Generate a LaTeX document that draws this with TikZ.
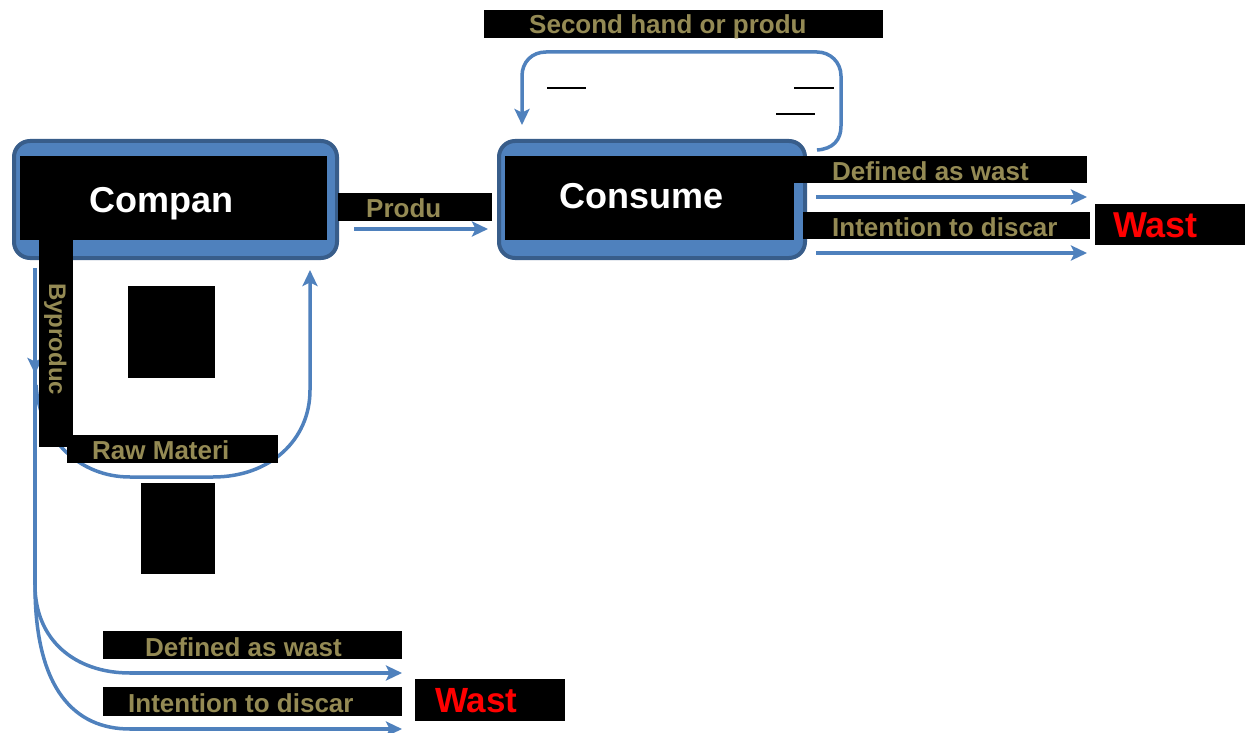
\documentclass[tikz,border=0pt]{standalone}
\usepackage{fontspec}
\setmainfont{Liberation Sans}
\usetikzlibrary{arrows.meta}
\definecolor{obl}{HTML}{4F81BD}
\definecolor{obd}{HTML}{385D8A}
\definecolor{olv}{HTML}{948A54}
\begin{document}
\begin{tikzpicture}[x=1pt,y=-1pt,
  outer/.style={draw=obd, line width=4pt, fill=obl, rounded corners=16pt, inner sep=0pt, anchor=north west},
  blk/.style={fill=black, inner sep=0pt, anchor=north west},
  arr/.style={draw=obl, line width=3.5pt, -{Stealth[length=16pt,width=15pt,inset=3.5pt]}},
  ln/.style={draw=obl, line width=3.5pt},
  dsh/.style={draw=black, line width=2.5pt},
  txt/.style={inner sep=0pt, anchor=base west, font=\bfseries\fontsize{26}{26}\selectfont, text=olv},
  big/.style={inner sep=0pt, anchor=base west, font=\bfseries\fontsize{36}{36}\selectfont}]
\useasboundingbox (0,0) rectangle (1248,733);
\fill[white] (0,0) rectangle (1248,733);

% blue boxes
\node[outer, minimum width=323pt, minimum height=117pt] (company) at (12,139) {};
\node[outer, minimum width=306pt, minimum height=117pt] (consumer) at (497,139) {};

% connector end points
\coordinate (prodS) at (354,229);
\coordinate (prodE) at (488,229);
\coordinate (dR1S) at (816,197);
\coordinate (dR1E) at (1087,197);
\coordinate (dR2S) at (816,253);
\coordinate (dR2E) at (1087,253);
\coordinate (loopS) at (817,150);
\coordinate (loopE) at (522,125);
\coordinate (byS) at (35,268);
\coordinate (byM) at (35,374);
\coordinate (bsplit) at (35,585);
\coordinate (rawE) at (310,270);

% connectors
\draw[arr] (prodS) -- (prodE);
\draw[arr] (dR1S) -- (dR1E);
\draw[arr] (dR2S) -- (dR2E);
\draw[arr] (loopS) .. controls (833,149) and (841,140) .. (841,126) -- (841,76)
   .. controls (841,62) and (830,52) .. (817,52) -- (546,52)
   .. controls (532,52) and (522,62) .. (522,76) -- (loopE);
% byproducts
\draw[arr] (byS) -- (byM);
\draw[ln] (35,368) -- (bsplit);
\draw[ln] (bsplit) .. controls (35,640) and (75,673) .. (130,673);
\draw[arr] (130,673) -- (402,673);
\draw[ln] (bsplit) .. controls (35,690) and (75,729) .. (130,729);
\draw[arr] (130,729) -- (402,729);
% raw materials loop
\draw[arr] (36,385) .. controls (40,440) and (80,477) .. (130,477) -- (213,477)
   .. controls (270,477) and (310,440) .. (310,390) -- (rawE);

% black masks
\node[blk, minimum width=307pt, minimum height=84pt] (companyblk) at (20,156) {};
\node[blk, minimum width=289pt, minimum height=84pt] (consumerblk) at (505,156) {};
\node[blk, minimum width=297pt, minimum height=27pt] (defR) at (790,156) {};
\node[blk, minimum width=287pt, minimum height=27pt] (intR) at (803,212) {};
\node[blk, minimum width=150pt, minimum height=41pt] (wastR) at (1095,204) {};
\node[blk, minimum width=399pt, minimum height=28pt] (second) at (484,10) {};
\node[blk, minimum width=154pt, minimum height=28pt] (produ) at (338,193) {};
\node[blk, minimum width=34pt, minimum height=207pt] (byprod) at (39,240) {};
\node[blk, minimum width=211pt, minimum height=28pt] (raw) at (67,435) {};
\node[blk, minimum width=87pt, minimum height=92pt] (sqA) at (128,286) {};
\node[blk, minimum width=74pt, minimum height=91pt] (sqB) at (141,483) {};
\node[blk, minimum width=299pt, minimum height=28pt] (defB) at (103,631) {};
\node[blk, minimum width=299pt, minimum height=29pt] (intB) at (103,687) {};
\node[blk, minimum width=150pt, minimum height=42pt] (wastB) at (415,679) {};

% short black rules
\draw[dsh] (547,88) -- (586,88);
\draw[dsh] (794,88) -- (834,88);
\draw[dsh] (776,114) -- (815,114);

% texts
\node[big, text=white] (tcomp) at (89,212) {Compan};
\node[big, text=white] (tcons) at (559,208) {Consume};
\node[txt] (tprod) at (366,217) {Produ};
\node[txt] (tsec) at (529,34) {Second hand or produ};
\node[txt] (tdefR) at (832,181) {Defined as wast};
\node[txt] (tintR) at (832,236) {Intention to discar};
\node[big, text=red] (twR) at (1113,237) {Wast};
\node[txt, rotate=-90, font=\bfseries\fontsize{24}{24}\selectfont] (tby) at (49,283) {Byproduc};
\node[txt] (traw) at (92,459) {Raw Materi};
\node[txt] (tdefB) at (145,656) {Defined as wast};
\node[txt] (tintB) at (128,712) {Intention to discar};
\node[big, text=red, font=\bfseries\fontsize{35}{35}\selectfont] (twB) at (435,712) {Wast};
\end{tikzpicture}
\end{document}
